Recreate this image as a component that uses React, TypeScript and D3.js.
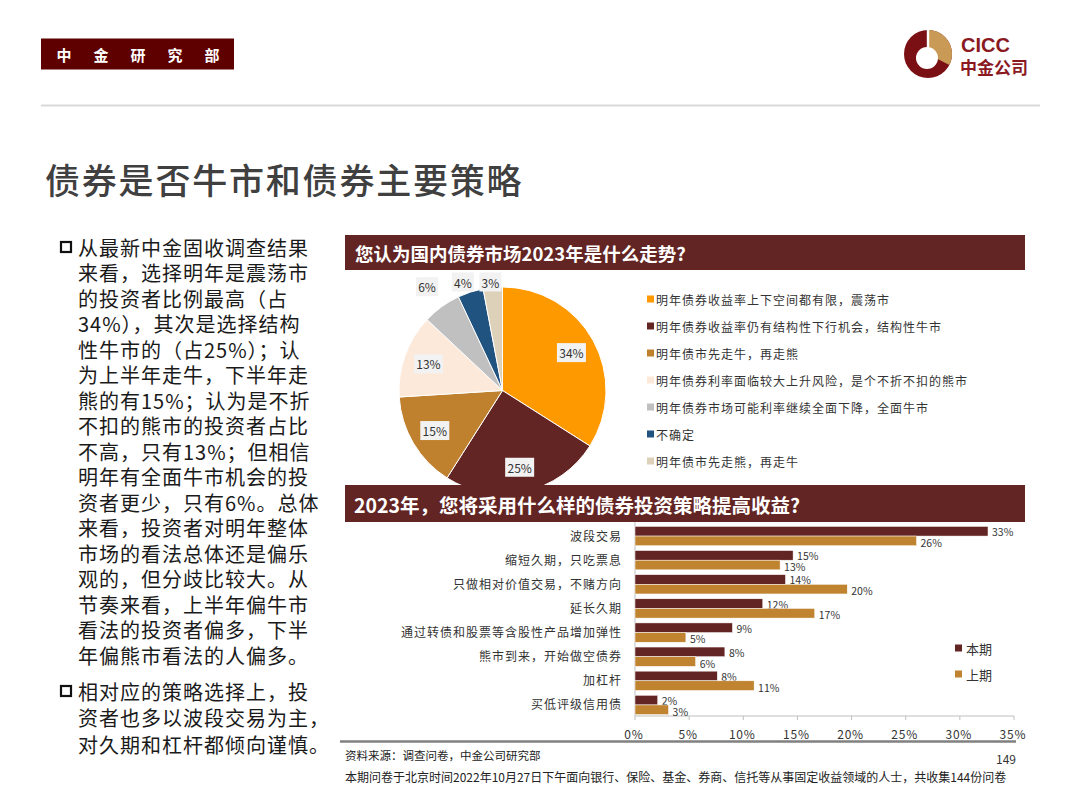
import React from "react";
import * as d3 from "d3";

const FONT = "'Noto Sans CJK SC', 'Noto Sans', sans-serif";

// ---------- data ----------
const pieLabels = [
  "明年债券收益率上下空间都有限，震荡市",
  "明年债券收益率仍有结构性下行机会，结构性牛市",
  "明年债市先走牛，再走熊",
  "明年债券利率面临较大上升风险，是个不折不扣的熊市",
  "明年债券市场可能利率继续全面下降，全面牛市",
  "不确定",
  "明年债市先走熊，再走牛",
];
const pieValues = [34, 25, 15, 13, 6, 4, 3];
const pieColors = ["#ff9900", "#632523", "#c0812f", "#fde9d9", "#c0c0c0", "#215380", "#ddd1b9"];

const barCategories = [
  "波段交易",
  "缩短久期，只吃票息",
  "只做相对价值交易，不赌方向",
  "延长久期",
  "通过转债和股票等含股性产品增加弹性",
  "熊市到来，开始做空债券",
  "加杠杆",
  "买低评级信用债",
];
const currentValues = [32.6, 14.6, 13.9, 11.8, 9.0, 8.3, 7.6, 2.1];
const previousValues = [26.0, 13.4, 19.6, 16.6, 4.7, 5.6, 11.0, 3.1];
const seriesNames = ["本期", "上期"];
const seriesColors = ["#632523", "#c0832f"];
const xTicks = [0, 5, 10, 15, 20, 25, 30, 35];

const paragraph1 = [
  "从最新中金固收调查结果",
  "来看，选择明年是震荡市",
  "的投资者比例最高（占",
  "34%），其次是选择结构",
  "性牛市的（占25%）；认",
  "为上半年走牛，下半年走",
  "熊的有15%；认为是不折",
  "不扣的熊市的投资者占比",
  "不高，只有13%；但相信",
  "明年有全面牛市机会的投",
  "资者更少，只有6%。总体",
  "来看，投资者对明年整体",
  "市场的看法总体还是偏乐",
  "观的，但分歧比较大。从",
  "节奏来看，上半年偏牛市",
  "看法的投资者偏多，下半",
  "年偏熊市看法的人偏多。",
];
const paragraph2 = [
  "相对应的策略选择上，投",
  "资者也多以波段交易为主，",
  "对久期和杠杆都倾向谨慎。",
];

const MAROON = "#632523";

function Logo() {
  const cx = 928, cy = 54;
  const gold = d3.arc()({ innerRadius: 0, outerRadius: 24, startAngle: 0, endAngle: 2.05 } as any) as string;
  return (
    <g>
      <circle cx={cx} cy={cy} r={24} fill="#7a0f14" />
      <path d={gold} transform={`translate(${cx},${cy})`} fill="#c99a55" />
      <circle cx={cx - 1} cy={cy + 4} r={11} fill="#ffffff" />
      <rect x={cx - 1.2} y={cy - 24} width={2.4} height={18} fill="#ffffff" />
      <text x={961} y={52} fontFamily="'Liberation Sans', Arial, sans-serif" fontWeight={700} fontSize={20} fill="#8a1a1f">CICC</text>
      <text x={960} y={74} fontFamily={FONT} fontWeight={700} fontSize={17} fill="#8a1a1f">中金公司</text>
    </g>
  );
}

function PieChart() {
  const cx = 502.5, cy = 390.5, R = 103.5;
  const pie = d3.pie<number>().sort(null).value((d) => d);
  const arcs = pie(pieValues);
  const arc = d3.arc<d3.PieArcDatum<number>>().innerRadius(0).outerRadius(R);
  const inner = d3.arc<d3.PieArcDatum<number>>().innerRadius(R * 0.76).outerRadius(R * 0.76);
  const outer = d3.arc<d3.PieArcDatum<number>>().innerRadius(R * 1.24).outerRadius(R * 1.24);
  return (
    <g>
      <g transform={`translate(${cx},${cy})`}>
        {arcs.map((a, i) => (
          <path key={i} d={arc(a) as string} fill={pieColors[i]} stroke="#ffffff" strokeWidth={1} />
        ))}
      </g>
      {arcs.map((a, i) => {
        const small = a.data < 10;
        const c = small ? outer.centroid(a) : inner.centroid(a);
        const x = cx + c[0];
        let y = cy + c[1];
        if (small) y = Math.max(y, 282);
        const label = `${a.data}%`;
        const w = label.length * 7 + 8;
        return (
          <g key={i}>
            <rect x={x - w / 2} y={y - 9.5} width={w} height={19} fill="#f2f2f2" />
            <text x={x} y={y} textAnchor="middle" dominantBaseline="central" fontFamily={FONT} fontSize={12} fill="#333">
              {label}
            </text>
          </g>
        );
      })}
      {/* legend */}
      {pieLabels.map((l, i) => {
        const y = 299 + i * 27;
        return (
          <g key={i}>
            <rect x={647} y={y - 3.5} width={7} height={7} fill={pieColors[i]} />
            <text x={656} y={y} dominantBaseline="central" fontFamily={FONT} fontSize={12} letterSpacing={1} fill="#333">
              {l}
            </text>
          </g>
        );
      })}
    </g>
  );
}

function BarChart() {
  const x = d3.scaleLinear().domain([0, 35]).range([635, 1014]);
  const y = d3.scaleBand<string>().domain(barCategories).range([524, 717]).paddingInner(0.2).paddingOuter(0.1);
  const sub = d3.scaleBand<number>().domain([0, 1]).range([0, y.bandwidth()]).padding(0);
  const series = [currentValues, previousValues];
  const axisY = 716;
  return (
    <g>
      {/* axes */}
      <line x1={635} x2={635} y1={522} y2={axisY} stroke="#bfbfbf" strokeWidth={1} />
      <line x1={635} x2={1014} y1={axisY} y2={axisY} stroke="#bfbfbf" strokeWidth={1} />
      {xTicks.map((t) => (
        <g key={t}>
          <line x1={x(t)} x2={x(t)} y1={axisY} y2={axisY + 4} stroke="#bfbfbf" />
          <text x={x(t) - 1} y={733} textAnchor="middle" dominantBaseline="central" fontFamily={FONT} fontSize={12} letterSpacing={0.8} fill="#333">
            {`${t}%`}
          </text>
        </g>
      ))}
      {barCategories.map((c, i) => (
        <g key={c}>
          <text x={622} y={(y(c) as number) + y.bandwidth() / 2 - 1} textAnchor="end" dominantBaseline="central" fontFamily={FONT} fontSize={12} letterSpacing={1} fill="#333">
            {c}
          </text>
          {series.map((vals, s) => {
            const by = (y(c) as number) + (sub(s) as number);
            const bh = sub.bandwidth();
            return (
              <g key={s}>
                <rect x={x(0)} y={by} width={x(vals[i]) - x(0)} height={bh} fill={seriesColors[s]} stroke="#ffffff" strokeWidth={0.5} />
                <text x={x(vals[i]) + 4} y={by + bh / 2 + (s === 0 ? 0.5 : 1.5)} dominantBaseline="central" fontFamily={FONT} fontSize={10.5} fill="#333">
                  {`${Math.round(vals[i])}%`}
                </text>
              </g>
            );
          })}
        </g>
      ))}
      {/* legend */}
      {seriesNames.map((n, s) => (
        <g key={n}>
          <rect x={955} y={648 + s * 26 - 3.5} width={7} height={7} fill={seriesColors[s]} />
          <text x={966} y={648 + s * 26} dominantBaseline="central" fontFamily={FONT} fontSize={13} fill="#333">
            {n}
          </text>
        </g>
      ))}
    </g>
  );
}

function LeftText() {
  const lh = 25.5;
  const p2y = 691;
  const bullet = (yy: number) => (
    <rect x={61} y={yy - 5} width={10} height={10} fill="none" stroke="#111" strokeWidth={2.2} />
  );
  return (
    <g fontFamily={FONT} fontSize={20} fill="#1a1a1a" letterSpacing={1}>
      {bullet(247)}
      {paragraph1.map((l, i) => (
        <text key={i} x={78} y={247 + i * lh} dominantBaseline="central">{l}</text>
      ))}
      {bullet(p2y)}
      {paragraph2.map((l, i) => (
        <text key={i} x={78} y={p2y + i * 26.5} dominantBaseline="central">{l}</text>
      ))}
    </g>
  );
}

export default function App() {
  const headerChars = ["中", "金", "研", "究", "部"];
  return (
    <svg width={1080} height={810} style={{ position: "absolute", left: 0, top: 0, background: "#fff" }}>
      <rect x={0} y={0} width={1080} height={810} fill="#ffffff" />
      {/* top header */}
      <rect x={41} y={38.5} width={193} height={31} fill="#5e0000" />
      {headerChars.map((c, i) => (
        <text key={c} x={64 + i * 37} y={54} textAnchor="middle" dominantBaseline="central" fontFamily={FONT} fontWeight={700} fontSize={15} fill="#fff">
          {c}
        </text>
      ))}
      <Logo />
      <line x1={41} x2={1040} y1={105.5} y2={105.5} stroke="#d9d9d9" strokeWidth={2} />
      <text x={45} y={178} dominantBaseline="central" fontFamily={FONT} fontWeight={500} fontSize={35} letterSpacing={1.8} fill="#404040">
        债券是否牛市和债券主要策略
      </text>
      <LeftText />
      {/* pie section */}
      <rect x={345} y={235} width={680} height={35} fill={MAROON} />
      <text x={355} y={253} dominantBaseline="central" fontFamily={FONT} fontWeight={700} fontSize={18.5} fill="#fff">
        您认为国内债券市场2023年是什么走势?
      </text>
      <PieChart />
      {/* bar section */}
      <rect x={345} y={485} width={680} height={37} fill={MAROON} />
      <text x={354} y={504} dominantBaseline="central" fontFamily={FONT} fontWeight={700} fontSize={19.5} fill="#fff">
        2023年，您将采用什么样的债券投资策略提高收益?
      </text>
      <BarChart />
      {/* footer */}
      <line x1={340} x2={1016} y1={741.5} y2={741.5} stroke="#808080" strokeWidth={2.5} />
      <text x={345} y={755} dominantBaseline="central" fontFamily={FONT} fontSize={11.5} fill="#222">
        资料来源：调查问卷，中金公司研究部
      </text>
      <text x={1016} y={758} textAnchor="end" dominantBaseline="central" fontFamily={FONT} fontSize={12} fill="#333">
        149
      </text>
      <text x={345} y={776} dominantBaseline="central" fontFamily={FONT} fontSize={12} fill="#222">
        本期问卷于北京时间2022年10月27日下午面向银行、保险、基金、券商、信托等从事固定收益领域的人士，共收集144份问卷
      </text>
    </svg>
  );
}
